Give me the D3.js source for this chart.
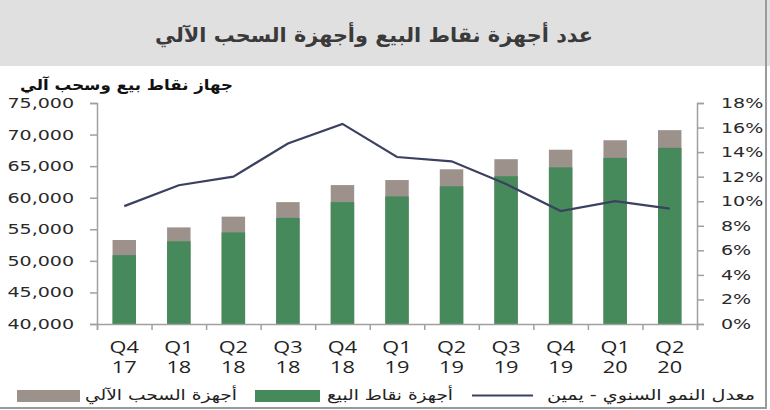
<!DOCTYPE html>
<html>
<head>
<meta charset="utf-8">
<script src="https://cdn.jsdelivr.net/npm/d3@7"></script>
<style>
  body { margin: 0; background: #fff; }
  svg { display: block; }
</style>
</head>
<body>
<div id="chart"></div>
<script>
// 데이터
var quarters = ["Q4", "Q1", "Q2", "Q3", "Q4", "Q1", "Q2", "Q3", "Q4", "Q1", "Q2"];
var years    = ["17", "18", "18", "18", "18", "19", "19", "19", "19", "20", "20"];
var posDevices = [50900, 53100, 54500, 56800, 59300, 60200, 61800, 63400, 64800, 66300, 67900];
var atmTotals  = [53300, 55300, 57000, 59300, 62000, 62800, 64500, 66100, 67600, 69100, 70700];
var growthRate = [9.6, 11.3, 12.0, 14.7, 16.3, 13.6, 13.25, 11.4, 9.2, 10.0, 9.4];
var leftTicks  = [40000, 45000, 50000, 55000, 60000, 65000, 70000, 75000];
var rightTicks = [0, 2, 4, 6, 8, 10, 12, 14, 16, 18];

var titleText = "عدد أجهزة نقاط البيع وأجهزة السحب الآلي";
var leftTitle = "جهاز نقاط بيع وسحب آلي";
var legendNames = ["أجهزة السحب الآلي", "أجهزة نقاط البيع", "معدل النمو السنوي - يمين"];

var colorPos = "#46895b", colorAtm = "#9c918b", colorLine = "#3b4160";
var sx = 1.36;   // 원본 차트의 가로 늘림 비율

var W = 770, H = 410;
var margin = {top: 103, right: 73, bottom: 86, left: 97};
var width = W - margin.left - margin.right;
var height = H - margin.top - margin.bottom;

var svg0 = d3.select("#chart").append("svg")
    .attr("width", W)
    .attr("height", H);

// 제목 영역
svg0.append("rect")
    .attr("x", 0).attr("y", 0)
    .attr("width", W).attr("height", 66)
    .attr("fill", "#e1e0e1");

svg0.append("text")
    .attr("x", 155).attr("y", 42)
    .attr("font-family", "DejaVu Sans")
    .attr("font-weight", "bold")
    .attr("font-size", 20)
    .attr("fill", "#3a3a3a")
    .attr("textLength", 438)
    .attr("lengthAdjust", "spacingAndGlyphs")
    .text(titleText);

// 테두리
svg0.append("line").attr("x1", 766).attr("x2", 766).attr("y1", 0).attr("y2", 408)
    .attr("stroke", "#9a9a9a").attr("stroke-width", 2);
svg0.append("line").attr("x1", 0).attr("x2", 767).attr("y1", 408).attr("y2", 408)
    .attr("stroke", "#9a9a9a").attr("stroke-width", 2);

var svg = svg0.append("g")
    .attr("transform", "translate(" + margin.left + "," + margin.top + ")");

// 축
var x = d3.scaleBand().domain(d3.range(quarters.length)).range([0, width]).paddingInner(0.57).paddingOuter(0.285);
var xb = d3.scaleBand().domain(d3.range(quarters.length)).range([0, width]);
var y = d3.scaleLinear().domain([40000, 75000]).range([height, 0]);
var y2 = d3.scaleLinear().domain([0, 18]).range([height, 0]);

// 막대 (스택)
svg.selectAll(".bar-atm")
    .data(atmTotals)
    .enter().append("rect")
        .attr("class", "bar-atm")
        .attr("x", function(d, i) { return x(i); })
        .attr("y", function(d) { return y(d); })
        .attr("width", x.bandwidth())
        .attr("height", function(d) { return height - y(d); })
        .attr("fill", colorAtm);

svg.selectAll(".bar-pos")
    .data(posDevices)
    .enter().append("rect")
        .attr("class", "bar-pos")
        .attr("x", function(d, i) { return x(i); })
        .attr("y", function(d) { return y(d); })
        .attr("width", x.bandwidth())
        .attr("height", function(d) { return height - y(d); })
        .attr("fill", colorPos);

// 선 (오른쪽 축)
var drawLine = d3.line()
    .x(function(d, i) { return xb(i) + xb.bandwidth() / 2; })
    .y(function(d) { return y2(d); });

svg.append("path")
    .datum(growthRate)
    .attr("d", drawLine)
    .attr("fill", "none")
    .attr("stroke", colorLine)
    .attr("stroke-width", 2.2);

// 왼쪽 축
var yAxis = d3.axisLeft(y).tickValues(leftTicks).tickSize(7).tickFormat(d3.format(","));
var gy = svg.append("g").attr("class", "yAxis").call(yAxis);
gy.selectAll("text")
    .attr("x", -23 / sx)
    .attr("transform", "scale(" + sx + ",1)")
    .attr("font-family", "DejaVu Sans")
    .attr("font-size", 14)
    .attr("fill", "#2a2a2a");

// 오른쪽 축
var yAxis2 = d3.axisRight(y2).tickValues(rightTicks).tickSize(7)
    .tickFormat(function(d) { return d + "%"; });
var gy2 = svg.append("g").attr("class", "yAxis2")
    .attr("transform", "translate(" + width + ",0)")
    .call(yAxis2);
gy2.selectAll("text")
    .attr("x", 24 / sx)
    .attr("transform", "scale(" + sx + ",1)")
    .attr("font-family", "DejaVu Sans")
    .attr("font-size", 14)
    .attr("fill", "#2a2a2a");

// x축
var xAxis = d3.axisBottom(d3.scaleLinear().domain([0, quarters.length]).range([0, width]))
    .tickValues(d3.range(quarters.length + 1)).tickSize(6).tickFormat("");
svg.append("g").attr("class", "xAxis")
    .attr("transform", "translate(0," + height + ")")
    .call(xAxis);

svg.selectAll(".domain, .tick line")
    .attr("stroke", "#a0a0a0")
    .attr("stroke-width", 1.5);

// x 라벨 (두 줄)
var xl = svg.selectAll(".xlabel")
    .data(quarters)
    .enter().append("g")
        .attr("class", "xlabel")
        .attr("transform", function(d, i) { return "translate(" + (xb(i) + xb.bandwidth() / 2) + "," + height + ") scale(" + sx + ",1)"; })
        .attr("text-anchor", "middle")
        .attr("font-family", "Open Sans")
        .attr("font-size", 16)
        .attr("fill", "#222");
xl.append("text")
    .attr("y", 29)
    .text(function(d) { return d; });
xl.append("text")
    .attr("y", 49)
    .text(function(d, i) { return years[i]; });

// 왼쪽 축 제목
svg0.append("text")
    .attr("x", 20).attr("y", 90)
    .attr("font-family", "DejaVu Sans")
    .attr("font-weight", "bold")
    .attr("font-size", 15)
    .attr("fill", "#111")
    .attr("textLength", 213)
    .attr("lengthAdjust", "spacingAndGlyphs")
    .text(leftTitle);

// 범례
var legend = svg0.append("g")
    .attr("font-family", "DejaVu Sans")
    .attr("font-size", 15)
    .attr("fill", "#222");

legend.append("rect").attr("x", 17).attr("y", 390).attr("width", 63).attr("height", 12).attr("fill", colorAtm);
legend.append("text").attr("x", 85).attr("y", 400)
    .attr("textLength", 152).attr("lengthAdjust", "spacingAndGlyphs").text(legendNames[0]);
legend.append("rect").attr("x", 255).attr("y", 390).attr("width", 65).attr("height", 12).attr("fill", colorPos);
legend.append("text").attr("x", 327).attr("y", 400)
    .attr("textLength", 126).attr("lengthAdjust", "spacingAndGlyphs").text(legendNames[1]);
legend.append("line").attr("x1", 472).attr("x2", 533).attr("y1", 395.5).attr("y2", 395.5)
    .attr("stroke", colorLine).attr("stroke-width", 2);
legend.append("text").attr("x", 547).attr("y", 400)
    .attr("textLength", 208).attr("lengthAdjust", "spacingAndGlyphs").text(legendNames[2]);
</script>
</body>
</html>
